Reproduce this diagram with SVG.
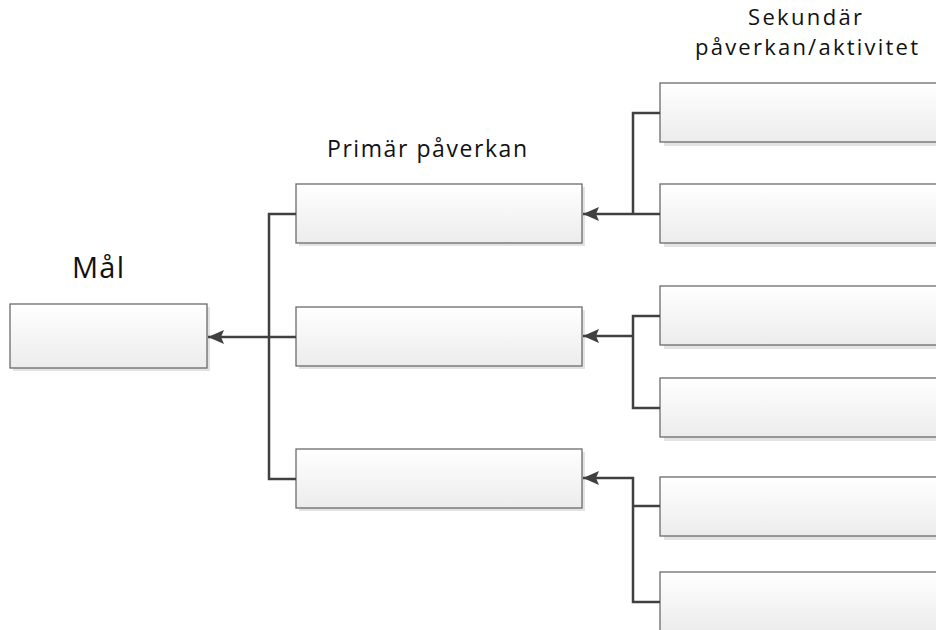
<svg xmlns="http://www.w3.org/2000/svg" width="936" height="630" viewBox="0 0 936 630">
<style>
.box{fill:url(#g);stroke:#6b6b6b;stroke-width:1.3}
.sh{fill:#e3e3e3}
.ln{fill:none;stroke:#404040;stroke-width:2.5}
.t{font-family:"Open Sans","Noto Sans",sans-serif;fill:#111}
</style>
<defs>
<linearGradient id="g" x1="0" y1="0" x2="0" y2="1">
<stop offset="0" stop-color="#ffffff"/>
<stop offset="1" stop-color="#ececec"/>
</linearGradient>
<marker id="ar" markerWidth="17" markerHeight="14" refX="16" refY="7" orient="auto" markerUnits="userSpaceOnUse">
<path d="M0,0 L16,7 L0,14 L3,7 Z" fill="#404040"/>
</marker>
</defs>
<text class="t" x="72" y="278" font-size="29" textLength="52" lengthAdjust="spacing">Mål</text>
<text class="t" x="327" y="157" font-size="23" textLength="200" lengthAdjust="spacing">Primär påverkan</text>
<text class="t" x="748" y="25" font-size="22" textLength="114" lengthAdjust="spacing">Sekundär</text>
<text class="t" x="695" y="55" font-size="22" textLength="223" lengthAdjust="spacing">påverkan/aktivitet</text>
<g id="mal"><rect class="sh" x="13" y="307" width="197" height="64"/><rect class="box" x="10" y="304" width="197" height="64"/></g>
<g id="p1"><rect class="sh" x="299" y="187" width="286" height="59"/><rect class="box" x="296" y="184" width="286" height="59"/></g>
<g id="p2"><rect class="sh" x="299" y="310" width="286" height="59"/><rect class="box" x="296" y="307" width="286" height="59"/></g>
<g id="p3"><rect class="sh" x="299" y="452" width="286" height="59"/><rect class="box" x="296" y="449" width="286" height="59"/></g>
<g id="s1"><rect class="sh" x="664" y="87" width="280" height="59"/><rect class="box" x="660" y="83" width="280" height="59"/></g>
<g id="s2"><rect class="sh" x="664" y="188" width="280" height="59"/><rect class="box" x="660" y="184" width="280" height="59"/></g>
<g id="s3"><rect class="sh" x="664" y="290" width="280" height="59"/><rect class="box" x="660" y="286" width="280" height="59"/></g>
<g id="s4"><rect class="sh" x="664" y="382" width="280" height="59"/><rect class="box" x="660" y="378" width="280" height="59"/></g>
<g id="s5"><rect class="sh" x="664" y="481" width="280" height="59"/><rect class="box" x="660" y="477" width="280" height="59"/></g>
<g id="s6"><rect class="sh" x="664" y="576" width="280" height="59"/><rect class="box" x="660" y="572" width="280" height="59"/></g>
<g id="connectors">
<path class="ln" d="M296,214 H269 V479 H296"/>
<path class="ln" d="M296,337 H208" marker-end="url(#ar)"/>
<path class="ln" d="M660,113 H633 V214"/>
<path class="ln" d="M660,214 H583" marker-end="url(#ar)"/>
<path class="ln" d="M660,316 H633 V408 H660"/>
<path class="ln" d="M633,336 H583" marker-end="url(#ar)"/>
<path class="ln" d="M660,506 H633"/>
<path class="ln" d="M660,602 H633 V478 H583" marker-end="url(#ar)"/>
</g>
</svg>
